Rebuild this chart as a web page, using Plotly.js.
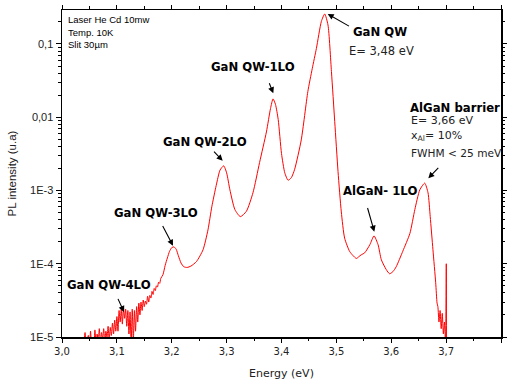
<!DOCTYPE html>
<html><head><meta charset="utf-8">
<script src="https://cdn.plot.ly/plotly-3.0.1.min.js"></script>
<style>html,body{margin:0;padding:0;background:#fff}#chart{width:507px;height:383px}</style>
</head><body><div id="chart"></div>
<script>
// ---- data ----
const energyLow = [3.040,3.042,3.044,3.046,3.048,3.050,3.052,3.054,3.056,3.058,3.060,3.062,3.064,3.066,3.068,3.070,3.072,3.074,3.076,3.078,3.080,3.082,3.084,3.086,3.088,3.090,3.092,3.094,3.096,3.098,3.100,3.102,3.104,3.106,3.108,3.110,3.112,3.114,3.116,3.118,3.120,3.122,3.124,3.126,3.128,3.130,3.132,3.134,3.136,3.138,3.140,3.142,3.144,3.146,3.148,3.150,3.152,3.154,3.156,3.158,3.160,3.162,3.164,3.166,3.168,3.170,3.172,3.174,3.176,3.178,3.180];
const intensityLow = [8e-6,1.15e-5,7e-6,9e-6,1.05e-5,6e-6,1.2e-5,8e-6,1.0e-5,7e-6,1.25e-5,8.5e-6,1.1e-5,9e-6,1.3e-5,8e-6,1.15e-5,9.5e-6,1.3e-5,8e-6,1.2e-5,1.0e-5,1.4e-5,9e-6,1.35e-5,1.05e-5,1.55e-5,1.1e-5,1.7e-5,1.2e-5,1.9e-5,1.2e-5,2.3e-5,1.6e-5,2.4e-5,1.5e-5,2.5e-5,1.8e-5,2.4e-5,1.4e-5,2.3e-5,1.1e-5,2.2e-5,8e-6,2.4e-5,9e-6,2.3e-5,1.2e-5,2.6e-5,1.6e-5,2.9e-5,2.0e-5,3.0e-5,2.3e-5,3.2e-5,2.6e-5,3.1e-5,2.8e-5,3.6e-5,3.0e-5,3.7e-5,3.4e-5,4.2e-5,3.8e-5,4.6e-5,4.3e-5,5.0e-5,4.8e-5,5.6e-5,5.4e-5,6.3e-5];
const energyMain = [3.184,3.188,3.192,3.196,3.200,3.204,3.208,3.212,3.217,3.222,3.228,3.235,3.245,3.257,3.266,3.273,3.281,3.288,3.2947,3.300,3.306,3.315,3.325,3.336,3.348,3.360,3.3725,3.380,3.3846,3.389,3.394,3.400,3.406,3.412,3.418,3.424,3.436,3.448,3.456,3.4636,3.4727,3.4787,3.4847,3.491,3.497,3.503,3.509,3.515,3.524,3.530,3.5365,3.541,3.545,3.5516,3.561,3.5686,3.576,3.582,3.591,3.597,3.603,3.609,3.621,3.634,3.643,3.652,3.661,3.667,3.671,3.676,3.681,3.6835];
const intensityMain = [7.1e-5,9.5e-5,1.2e-4,1.48e-4,1.66e-4,1.7e-4,1.58e-4,1.29e-4,1.02e-4,9.1e-5,8.9e-5,9.3e-5,1.07e-4,1.55e-4,2.9e-4,6.0e-4,1.17e-3,1.9e-3,2.17e-3,1.74e-3,1.02e-3,5.5e-4,4.4e-4,5.2e-4,9.3e-4,2.4e-3,6.3e-3,1.32e-2,1.78e-2,1.5e-2,9.3e-3,3.2e-3,1.74e-3,1.38e-3,1.5e-3,1.95e-3,4.9e-3,2.24e-2,4.6e-2,8.7e-2,0.204,0.257,0.182,0.042,8.7e-3,1.82e-3,5.1e-4,2.24e-4,1.48e-4,1.3e-4,1.18e-4,1.25e-4,1.32e-4,1.41e-4,1.82e-4,2.4e-4,1.82e-4,1.13e-4,8.3e-5,7.3e-5,7.8e-5,9.1e-5,1.48e-4,2.6e-4,5.5e-4,1.02e-3,1.26e-3,9.3e-4,4.4e-4,1.55e-4,5.5e-5,2.9e-5];
const energyHigh = [3.685,3.687,3.689,3.691,3.693,3.695,3.697,3.699,3.7003,3.7006];
const intensityHigh = [2.6e-5,1.6e-5,2.3e-5,1.3e-5,2.1e-5,1.1e-5,1.6e-5,8e-6,1.0e-4,8e-6];

const yTickValues = [1e-5,1e-4,1e-3,1e-2,1e-1];
const yTickLabels = ['1E-5','1E-4','1E-3','0,01','0,1'];
const infoLines = ['Laser He Cd 10mw','Temp. 10K','Slit 30µm'];
const peakLabels = ['GaN QW-4LO','GaN QW-3LO','GaN QW-2LO','GaN QW-1LO','GaN QW','AlGaN- 1LO','AlGaN barrier'];
const qwDetail = ['E= 3,48 eV'];
const barrierDetail = ['E= 3,66 eV','x<sub>Al</sub>= 10%','FWHM < 25 meV'];

// ---- layout helpers (pixel -> paper) ----
const L=62, T=10, W=439, H=327;
const px = x => (x-L)/W;
const py = y => (T+H-y)/H;

const energy = energyLow.concat(energyMain, energyHigh);
const intensity = intensityLow.concat(intensityMain, intensityHigh);

const minorY = [];
for (let e=-5; e<0; e++) for (let k=2; k<=9; k++) { const v=k*Math.pow(10,e); if (v<0.3) minorY.push(v); }

const boldFont = {family:'DejaVu Sans', size:11.7, color:'#000', weight:'bold'};
const normFont = {family:'DejaVu Sans', size:11, color:'#222'};
const ann = [];
function txt(t, x, y, font){ ann.push({text:t, xref:'paper', yref:'paper', x:px(x), y:py(y), xanchor:'left', yanchor:'middle', showarrow:false, font:font, borderpad:0}); }
function arr(tx, ty, hx, hy){ ann.push({text:' ', font:{size:4}, xref:'paper', yref:'paper', x:px(hx), y:py(hy), ax:tx-hx, ay:ty-hy, showarrow:true, arrowhead:2, arrowsize:1.1, arrowwidth:1.1, arrowcolor:'#000', standoff:0, startstandoff:0, borderpad:0}); }

// info text
const infoFont = {family:'Liberation Sans', size:9.5, color:'#000'};
txt(infoLines[0], 67, 20, infoFont);
txt(infoLines[1], 67, 32.3, infoFont);
txt(infoLines[2], 67, 44.3, infoFont);
// peak labels
txt(peakLabels[0], 66, 285, boldFont);
txt(peakLabels[1], 113, 213, boldFont);
txt(peakLabels[2], 162, 142.3, boldFont);
txt(peakLabels[3], 210, 67.3, boldFont);
txt(peakLabels[4], 352, 32.3, boldFont);
txt(peakLabels[5], 342, 190.7, boldFont);
txt(peakLabels[6], 409, 108.3, boldFont);
txt(qwDetail[0], 348, 51, {family:'DejaVu Sans', size:11.5, color:'#222'});
txt(barrierDetail[0], 410, 120.7, normFont);
txt(barrierDetail[1], 410, 136, normFont);
txt(barrierDetail[2], 410, 153.3, {family:'DejaVu Sans', size:10.6, color:'#222'});
// arrows
arr(117, 296.7, 124, 312);
arr(161.7, 224, 173, 245.7);
arr(213, 150.7, 222.7, 160.7);
arr(268.3, 80.7, 273.3, 93.3);
arr(350, 26.7, 327.7, 14);
arr(366.7, 205, 374.3, 231.7);
arr(439.3, 166.7, 428.3, 178.3);

const trace = {x:energy, y:intensity, type:'scatter', mode:'lines',
  line:{color:'#ff0000', width:1, shape:'spline', smoothing:0.6}, hoverinfo:'skip'};

const layout = {
  width:507, height:383, margin:{l:62, r:6, t:10, b:46},
  paper_bgcolor:'#fff', plot_bgcolor:'#fff', showlegend:false,
  separators:',.',
  xaxis:{range:[3.0,3.8], dtick:0.1, tick0:3.0, tickformat:'.1f', showgrid:false, zeroline:false,
    showline:true, linecolor:'#000', linewidth:1.5, mirror:'ticks', ticks:'outside', ticklen:4, tickwidth:1, tickcolor:'#000',
    minor:{dtick:0.05, tick0:3.0, ticks:'outside', ticklen:2.5, tickcolor:'#000', showgrid:false},
    tickfont:{family:'DejaVu Sans', size:10, color:'#222'},
    title:{text:'Energy (eV)', font:{family:'DejaVu Sans', size:11, color:'#222'}, standoff:14}},
  yaxis:{type:'log', range:[-5, -0.536], tickmode:'array', tickvals:yTickValues, ticktext:yTickLabels,
    showgrid:false, zeroline:false, showline:true, linecolor:'#000', linewidth:1.5, mirror:'ticks',
    ticks:'outside', ticklen:5, tickwidth:1, tickcolor:'#000',
    minor:{tickmode:'array', tickvals:minorY, ticks:'outside', ticklen:2.5, tickcolor:'#000', showgrid:false},
    tickfont:{family:'Liberation Sans', size:11, color:'#222'},
    title:{text:'PL intensity (u.a)', font:{family:'Liberation Sans', size:11.5, color:'#222'}, standoff:11}},
  annotations:ann
};
Plotly.newPlot('chart', [trace], layout, {staticPlot:true, displayModeBar:false});
</script>
</body></html>
